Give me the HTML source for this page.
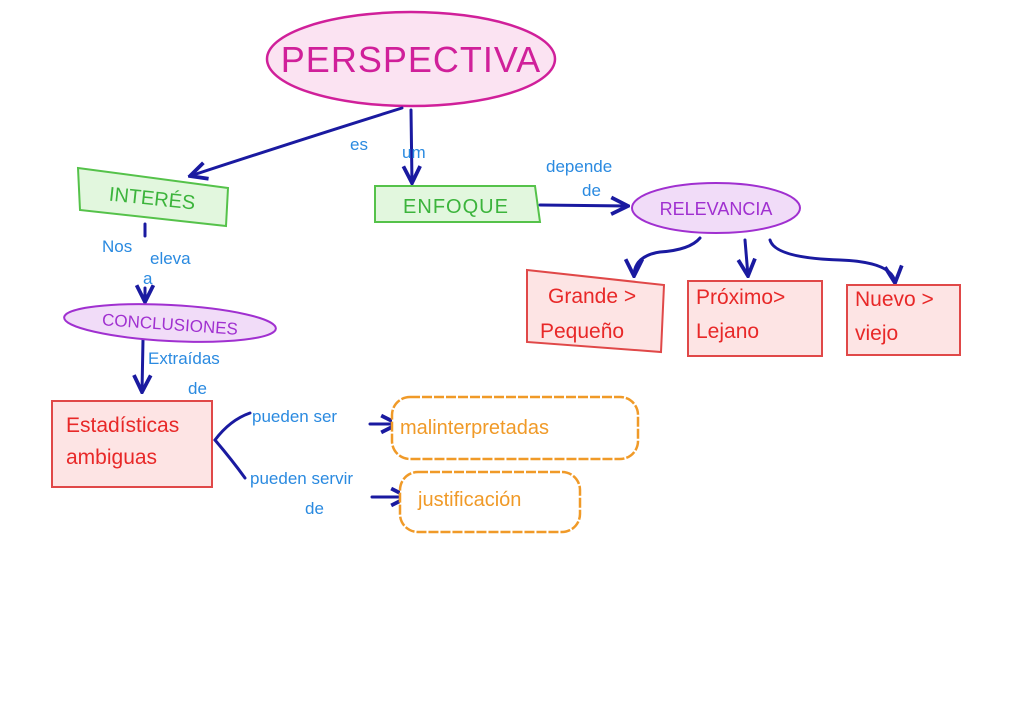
<!DOCTYPE html>
<html><head><meta charset="utf-8"><style>
html,body{margin:0;padding:0;background:#fff;}
svg{display:block;font-family:"Liberation Sans",sans-serif;}
</style></head><body>
<svg width="1024" height="716" viewBox="0 0 1024 716" xmlns="http://www.w3.org/2000/svg">
<defs>
<marker id="a" viewBox="0 0 10 10" refX="9" refY="5" markerWidth="7" markerHeight="7" orient="auto"><path d="M1,1 L9,5 L1,9" fill="none" stroke="#1a1aa0" stroke-width="1.8"/></marker>
</defs>
<rect width="1024" height="716" fill="#fff"/>
<!-- Perspectiva -->
<ellipse cx="411" cy="59" rx="144" ry="47" fill="#fbe3f2" stroke="#d0209a" stroke-width="2.5"/>
<text x="411" y="72" text-anchor="middle" font-size="36" fill="#d0209a" letter-spacing="1">PERSPECTIVA</text>
<g fill="none" stroke="#1a1aa0" stroke-width="3" stroke-linecap="round">
<path d="M402,108 Q300,140 190,176" marker-end="url(#a)"/>
<path d="M411,110 L412,183" marker-end="url(#a)"/>
<path d="M540,205 L628,206" marker-end="url(#a)"/>
<path d="M700,238 Q690,250 660,252 Q634,256 634,276" marker-end="url(#a)"/>
<path d="M745,240 L748,276" marker-end="url(#a)"/>
<path d="M770,240 Q775,258 840,260 Q893,262 895,283" marker-end="url(#a)"/>
<path d="M145,224 L145,236"/>
<path d="M145,288 L145,302" marker-end="url(#a)"/>
<path d="M143,340 L142,392" marker-end="url(#a)"/>
<path d="M250,413 Q230,420 215,440 Q232,460 245,478"/>
<path d="M370,424 L398,424" marker-end="url(#a)"/>
<path d="M372,497 L408,497" marker-end="url(#a)"/>
</g>
<g fill="#2a8ae0" font-size="17">
<text x="350" y="150">es</text>
<text x="402" y="158">um</text>
<text x="546" y="172">depende</text>
<text x="582" y="196">de</text>
<text x="102" y="252">Nos</text>
<text x="150" y="264">eleva</text>
<text x="143" y="284">a</text>
<text x="148" y="364">Extraídas</text>
<text x="188" y="394">de</text>
<text x="252" y="422">pueden ser</text>
<text x="250" y="484">pueden servir</text>
<text x="305" y="514">de</text>
</g>
<!-- green boxes -->
<polygon points="78,168 228,188 226,226 80,210" fill="#e2f7de" stroke="#55c24a" stroke-width="2"/>
<text x="152" y="205" text-anchor="middle" font-size="20" fill="#3cb43c" transform="rotate(6 152 200)">INTERÉS</text>
<polygon points="375,186 535,186 540,222 375,222" fill="#e2f7de" stroke="#55c24a" stroke-width="2"/>
<text x="456" y="213" text-anchor="middle" font-size="20" fill="#3cb43c" letter-spacing="1">ENFOQUE</text>
<!-- Relevancia -->
<ellipse cx="716" cy="208" rx="84" ry="25" fill="#f1dcf8" stroke="#a030d0" stroke-width="2"/>
<text x="716" y="215" text-anchor="middle" font-size="18" fill="#a030d0">RELEVANCIA</text>
<!-- conclusiones -->
<ellipse cx="170" cy="323" rx="106" ry="18" fill="#f1dcf8" stroke="#a030d0" stroke-width="2" transform="rotate(3 170 323)"/>
<text x="170" y="330" text-anchor="middle" font-size="17" fill="#a030d0" transform="rotate(4 170 325)">CONCLUSIONES</text>
<!-- red boxes -->
<g fill="#fde4e4" stroke="#e04848" stroke-width="2">
<polygon points="527,270 664,285 661,352 527,342"/>
<rect x="688" y="281" width="134" height="75"/>
<rect x="847" y="285" width="113" height="70"/>
<rect x="52" y="401" width="160" height="86"/>
</g>
<g fill="#e82828" font-size="21">
<text x="548" y="303">Grande &gt;</text>
<text x="540" y="338">Pequeño</text>
<text x="696" y="304">Próximo&gt;</text>
<text x="696" y="338">Lejano</text>
<text x="855" y="306">Nuevo &gt;</text>
<text x="855" y="340">viejo</text>
<text x="66" y="432">Estadísticas</text>
<text x="66" y="464">ambiguas</text>
</g>
<!-- clouds -->
<rect x="392" y="397" width="246" height="62" rx="18" fill="#fff" stroke="#f09a28" stroke-width="2.5" stroke-dasharray="10 2"/>
<text x="400" y="434" font-size="20" fill="#f09a28">malinterpretadas</text>
<rect x="400" y="472" width="180" height="60" rx="18" fill="#fff" stroke="#f09a28" stroke-width="2.5" stroke-dasharray="10 2"/>
<text x="418" y="506" font-size="20" fill="#f09a28">justificación</text>
</svg>
</body></html>
